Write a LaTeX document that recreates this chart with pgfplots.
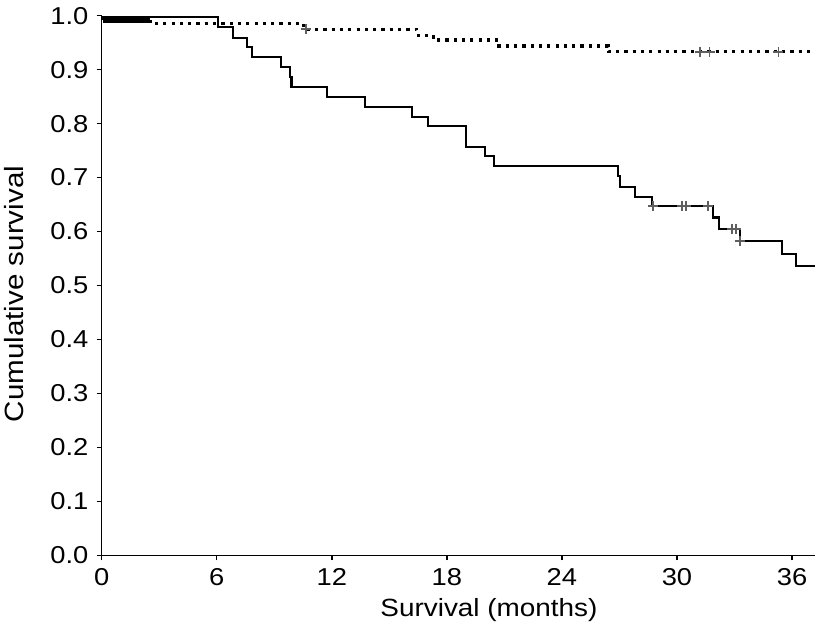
\documentclass[border=0pt]{standalone}
\usepackage{fontspec}
\setmainfont{Liberation Sans}[FakeStretch=1.12]
\usepackage{pgfplots}
\pgfplotsset{compat=1.18}
\definecolor{censor}{RGB}{95,95,95}
\begin{document}
\fontsize{24.5}{29}\selectfont
\begin{tikzpicture}[x=1bp,y=1bp]
\useasboundingbox (-101.7,-71.7) rectangle (713.3,555.3);
\begin{axis}[
  at={(0,0)}, anchor=south west,
  width=713.3bp, height=539.6bp, scale only axis,
  xmin=0, xmax=37.2, ymin=0, ymax=1,
  axis lines=left,
  axis line style={line width=1.5bp, -},
  clip=false,
  tick align=outside, major tick length=5bp,
  tick style={line width=1.4bp, black},
  xtick={0,6,12,18,24,30,36},
  ytick={0,0.1,0.2,0.3,0.4,0.5,0.6,0.7,0.8,0.9,1.0},
  /pgf/number format/assume math mode=true,
  yticklabel style={/pgf/number format/.cd, fixed, fixed zerofill, precision=1},
  xticklabel style={/pgf/number format/.cd, fixed},
  ticklabel style={font=\fontsize{24.5}{29}\selectfont},
]
% solid curve
\addplot[const plot, black, line width=2.1bp] coordinates {
(0,0.997)(6.08,0.9785)(6.87,0.958)(7.57,0.9426)(7.82,0.923)(9.35,0.9055)
(9.82,0.887)(9.9,0.8684)(11.73,0.850)(13.73,0.831)(16.17,0.813)(17.03,0.7956)
(18.98,0.757)(20.0,0.740)(20.47,0.722)(26.94,0.703)(27.03,0.683)(27.81,0.6646)
(28.68,0.647)(31.9,0.626)(32.21,0.605)(33.27,0.5825)(35.5,0.558)(36.2,0.536)(37.2,0.536)};
% dotted curve
\addplot[const plot, black, line width=3.2bp, dash pattern=on 3.2bp off 5.1bp] coordinates {
(0,0.995)(2.52,0.986)(10.52,0.975)(16.43,0.964)(17.29,0.955)(20.6,0.944)(26.42,0.933)(37.2,0.933)};
% dense censoring at start
\addplot[black, line width=6.5bp] coordinates {(0.07,0.993)(2.52,0.993)};
% censor marks
\addplot[only marks, mark=+, mark size=5bp, censor, line width=1.7bp] coordinates {
(28.74,0.647)(30.25,0.647)(30.47,0.647)(31.63,0.647)(32.86,0.605)(33.08,0.605)(33.27,0.5825)};
\addplot[only marks, mark=+, mark size=5bp, censor, line width=1.7bp] coordinates {
(10.65,0.975)(31.2,0.933)(31.7,0.933)(35.29,0.933)};
\end{axis}
\node[rotate=90, font=\fontsize{26.5}{30}\selectfont] at (-87.2,261.3) {Cumulative survival};
\node[font=\fontsize{25}{29}\selectfont] at (387.3,-54.7) {Survival (months)};
\end{tikzpicture}
\end{document}
